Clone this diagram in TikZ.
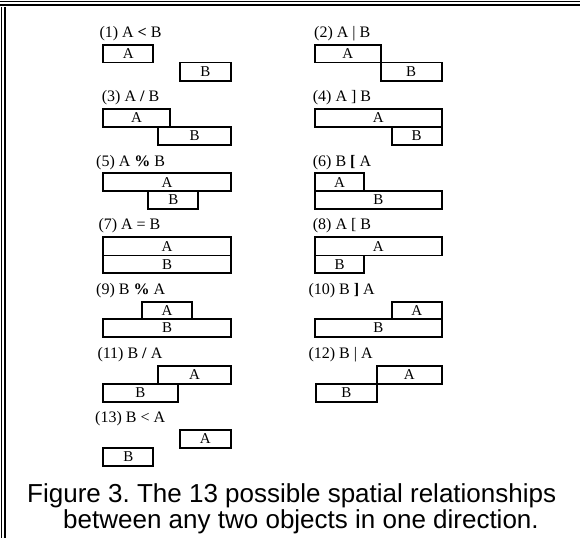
\documentclass[tikz,border=0pt]{standalone}
\usepackage{fontspec}
\setmainfont{Liberation Serif}
\newfontfamily\capfont{Liberation Sans}
\frenchspacing
\tikzset{
  bx/.style={draw, line width=1.8pt, inner sep=0pt, font=\fontsize{15}{15}\selectfont},
  lbl/.style={anchor=base west, inner sep=0pt, font=\fontsize{16}{16}\selectfont},
  captext/.style={anchor=base, inner sep=0pt, font=\capfont\fontsize{26}{30}\selectfont},
  framerule/.style={line width=1.6pt}
}
\newcommand\relbox[6]{\node[bx, minimum width={#4pt-#2pt}, minimum height={#5pt-#3pt}] (#1) at ({(#2+#4)/2},{(#3+#5)/2}) {#6};}
\begin{document}
\begin{tikzpicture}[x=1pt,y=-1pt]
\useasboundingbox (0,0) rectangle (580,538);
% frame
\draw[framerule] (0,1.5) -- (580,1.5);
\draw[framerule] (0,5.2) -- (580,5.2);
\draw[framerule] (1.5,7) -- (1.5,538);
\draw[framerule] (5,7) -- (5,538);
% labels
\node[lbl] (l1) at (99.3,37.4) {(1) A \textbf{<} B};
\node[lbl] (l2) at (314,37.4) {(2) A | B};
\node[lbl] (l3) at (101.7,101.7) {(3) A \textbf{/} B};
\node[lbl] (l4) at (312.7,101.7) {(4) A ] B};
\node[lbl] (l5) at (96,166) {(5) A \textbf{\%} B};
\node[lbl] (l6) at (312.7,166) {(6) B \textbf{[} A};
\node[lbl] (l7) at (98.3,229.4) {(7) A = B};
\node[lbl] (l8) at (312.7,229.4) {(8) A [ B};
\node[lbl] (l9) at (96,294.4) {(9) B \textbf{\%} A};
\node[lbl] (l10) at (308.3,294.4) {(10) B \textbf{]} A};
\node[lbl] (l11) at (97.3,358.4) {(11) B \textbf{/} A};
\node[lbl] (l12) at (308.3,358.4) {(12) B | A};
\node[lbl] (l13) at (95,422.7) {(13) B < A};
% boxes left column
\relbox{a1}{103.3}{44.7}{153.3}{62.5}{A}
\relbox{b1}{180}{62.5}{230.7}{80.7}{B}
\relbox{a3}{103.3}{109}{170}{126.8}{A}
\relbox{b3}{158.3}{126.8}{230.7}{145}{B}
\relbox{a5}{103.3}{173.3}{230.7}{190.9}{A}
\relbox{b5}{148.3}{190.9}{198.3}{209}{B}
\relbox{a7}{103.3}{236.7}{230.7}{255.5}{A}
\relbox{b7}{103.3}{255.5}{230.7}{273.3}{B}
\relbox{a9}{142.3}{301.7}{191.7}{319.3}{A}
\relbox{b9}{103.3}{319.3}{230.7}{336.7}{B}
\relbox{a11}{158.3}{365.7}{230.7}{384}{A}
\relbox{b11}{103.3}{384}{177.7}{401.7}{B}
\relbox{a13}{180}{430}{230.7}{447.7}{A}
\relbox{b13}{103.3}{447.7}{153.3}{465.7}{B}
% boxes right column
\relbox{a2}{315}{44.7}{380.7}{62.5}{A}
\relbox{b2}{380.7}{62.5}{441.7}{80.7}{B}
\relbox{a4}{315}{109}{441.7}{126.8}{A}
\relbox{b4}{391.7}{126.8}{441.7}{145}{B}
\relbox{a6}{315}{173.3}{364.3}{190.9}{A}
\relbox{b6}{315}{190.9}{441.7}{209}{B}
\relbox{a8}{315}{236.7}{441.7}{255.5}{A}
\relbox{b8}{315}{255.5}{364.3}{273.3}{B}
\relbox{a10}{391.7}{301.7}{441.7}{319.3}{A}
\relbox{b10}{315}{319.3}{441.7}{336.7}{B}
\relbox{a12}{376.7}{365.7}{441.7}{384}{A}
\relbox{b12}{316}{384}{376.7}{401.7}{B}
% caption
\node[captext] (c1) at (291.7,502.6) {Figure 3. The 13 possible spatial relationships};
\node[captext] (c2) at (301,528.3) {between any two objects in one direction.};
\end{tikzpicture}
\end{document}
